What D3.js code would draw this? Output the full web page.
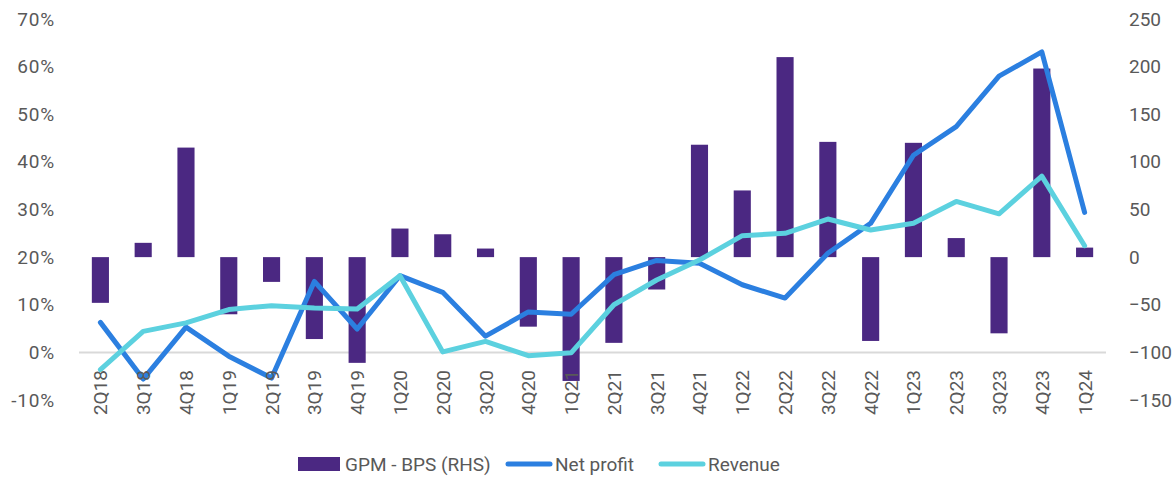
<!DOCTYPE html>
<html>
<head>
<meta charset="utf-8">
<script src="https://cdn.jsdelivr.net/npm/d3@7"></script>
<style>
  body { margin: 0; background: #fff; }
  svg text { font-family: Roboto, "Liberation Sans", sans-serif; fill: #595959; }
</style>
</head>
<body>
<div id="chart"></div>
<script>
// ============ 数据 ============
const quarters = ['2Q18','3Q18','4Q18','1Q19','2Q19','3Q19','4Q19','1Q20','2Q20','3Q20','4Q20','1Q21',
  '2Q21','3Q21','4Q21','1Q22','2Q22','3Q22','4Q22','1Q23','2Q23','3Q23','4Q23','1Q24'];

// GPM change in bps (right axis)
const gpmBps = [-48, 15, 115, -60, -26, -86, -111, 30, 24, 9, -73, -130,
  -90, -34, 118, 70, 210, 121, -88, 120, 20, -80, 198, 10];

// YoY growth, % (left axis)
const netProfit = [6.3, -5.6, 5.3, -0.8, -5.4, 14.9, 4.9, 16.1, 12.6, 3.4, 8.5, 8.0,
  16.3, 19.3, 18.7, 14.2, 11.4, 20.8, 27.1, 41.4, 47.4, 58.0, 63.1, 29.4];
const revenue = [-3.6, 4.4, 6.2, 9.0, 9.8, 9.3, 9.1, 16.1, 0.1, 2.3, -0.7, -0.1,
  10.0, 15.2, 19.4, 24.5, 25.0, 28.0, 25.7, 27.1, 31.7, 29.1, 37.0, 22.4];

const leftTicks = [-10, 0, 10, 20, 30, 40, 50, 60, 70];
const rightTicks = [-150, -100, -50, 0, 50, 100, 150, 200, 250];

const legendItems = [
  { name: 'GPM - BPS (RHS)', type: 'bar', color: '#4B2882' },
  { name: 'Net profit', type: 'line', color: '#2B7FE0' },
  { name: 'Revenue', type: 'line', color: '#5CD1DF' }
];

// ============ 尺寸 ============
const width = 1175;
const height = 477;
const plot = { left: 79, right: 1106, top: 19, bottom: 400 };

const svg = d3.select('#chart').append('svg')
  .attr('width', width)
  .attr('height', height);

const x = d3.scaleBand()
  .domain(quarters)
  .range([plot.left, plot.right]);

const yLeft = d3.scaleLinear().domain([-10, 70]).range([plot.bottom, plot.top]);
const yRight = d3.scaleLinear().domain([-150, 250]).range([plot.bottom, plot.top]);

// 左轴
svg.append('g')
  .attr('transform', `translate(${plot.left - 24},0)`)
  .call(d3.axisLeft(yLeft).tickValues(leftTicks).tickSize(0).tickPadding(0).tickFormat(d => d + '%'))
  .call(g => g.select('.domain').remove())
  .selectAll('text')
  .attr('font-size', 19)
  .attr('letter-spacing', 0.8);

// 右轴
svg.append('g')
  .attr('transform', `translate(${plot.right + 23},0)`)
  .call(d3.axisRight(yRight).tickValues(rightTicks).tickSize(0).tickPadding(0))
  .call(g => g.select('.domain').remove())
  .selectAll('text')
  .attr('font-size', 19);

// 0% 参考线
svg.append('line')
  .attr('x1', plot.left).attr('x2', plot.right)
  .attr('y1', yLeft(0)).attr('y2', yLeft(0))
  .attr('stroke', '#D9D9D9')
  .attr('stroke-width', 2);

// 柱状图
const barW = x.bandwidth() * 0.4;
svg.append('g')
  .selectAll('rect')
  .data(quarters)
  .join('rect')
  .attr('x', d => x(d) + (x.bandwidth() - barW) / 2)
  .attr('width', barW)
  .attr('y', (d, i) => yRight(Math.max(0, gpmBps[i])))
  .attr('height', (d, i) => Math.abs(yRight(gpmBps[i]) - yRight(0)))
  .attr('fill', '#4B2882');

// 折线
const line = d3.line()
  .x((d, i) => x(quarters[i]) + x.bandwidth() / 2)
  .y(d => yLeft(d));

[[netProfit, legendItems[1].color], [revenue, legendItems[2].color]].forEach(([vals, color]) => {
  svg.append('path')
    .datum(vals)
    .attr('d', line)
    .attr('fill', 'none')
    .attr('stroke', color)
    .attr('stroke-width', 5)
    .attr('stroke-linejoin', 'round')
    .attr('stroke-linecap', 'round');
});

// X 轴标签（竖排）
svg.append('g')
  .selectAll('text')
  .data(quarters)
  .join('text')
  .attr('transform', d => `translate(${x(d) + x.bandwidth() / 2 + 7},370) rotate(-90)`)
  .attr('text-anchor', 'end')
  .attr('font-size', 19)
  .text(d => d);

// 图例
const legend = svg.append('g').attr('transform', 'translate(298,464)');
const legendX = [0, 208, 361];
legendItems.forEach((item, i) => {
  const g = legend.append('g').attr('transform', `translate(${legendX[i]},0)`);
  if (item.type === 'bar') {
    g.append('rect').attr('x', 0).attr('y', -7).attr('width', 42).attr('height', 14).attr('fill', item.color);
  } else {
    g.append('line').attr('x1', 2).attr('x2', 44).attr('y1', 0).attr('y2', 0)
      .attr('stroke', item.color).attr('stroke-width', 5).attr('stroke-linecap', 'round');
  }
  g.append('text')
    .attr('x', item.type === 'bar' ? 47 : 49)
    .attr('y', 7)
    .attr('font-size', 19)
    .text(item.name);
});
</script>
</body>
</html>
